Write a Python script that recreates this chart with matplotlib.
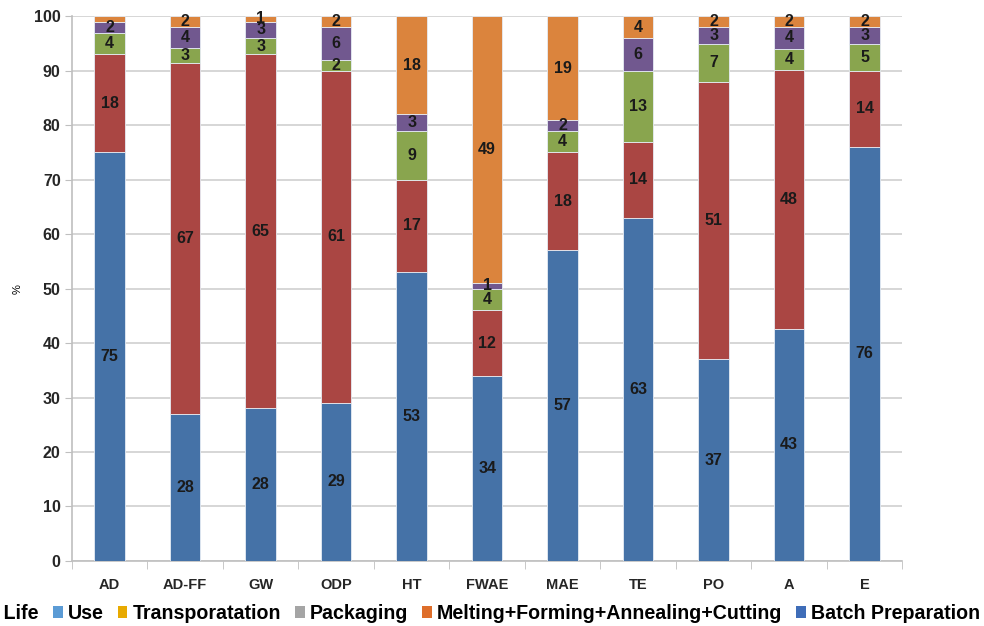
import numpy as np
import matplotlib
matplotlib.use("Agg")
from matplotlib import pyplot as plt
from matplotlib.patches import Patch

plt.rcParams['font.family'] = ['Liberation Sans', 'DejaVu Sans']

# categories and stacked shares (bottom to top)
cats = ['AD', 'AD-FF', 'GW', 'ODP', 'HT', 'FWAE', 'MAE', 'TE', 'PO', 'A', 'E']
batch = [75, 28, 28, 29, 53, 34, 57, 63, 37, 43, 76]
melting = [18, 67, 65, 61, 17, 12, 18, 14, 51, 48, 14]
green_part = [4, 3, 3, 2, 9, 4, 4, 13, 7, 4, 5]
purple_part = [2, 4, 3, 6, 3, 1, 2, 6, 3, 4, 3]
orange_part = [1, 2, 1, 2, 18, 49, 19, 4, 2, 2, 2]
series = [batch, melting, green_part, purple_part, orange_part]
bar_colors = ['#4572A7', '#AA4643', '#89A54E', '#71588F', '#DB843D']

# legend entries as printed under the chart
legend_names = ['End of Life', 'Use', 'Transporatation', 'Packaging',
                'Melting+Forming+Annealing+Cutting', 'Batch Preparation']
legend_colors = ['#70AD47', '#5B9BD5', '#E8AA00', '#A5A5A5', '#DE6E2A', '#3F6DB8']

data = np.array(series, dtype=float)
pct = data / data.sum(axis=0) * 100   # 100% stacked columns

fig = plt.figure(figsize=(9.84, 6.26), dpi=100)
ax = fig.add_axes([0.073, 0.104, 0.844, 0.870])

x = np.arange(len(cats))
bottom = np.zeros(len(cats))
for k in range(len(series)):
    ax.bar(x, pct[k], 0.4, bottom=bottom, color=bar_colors[k],
           edgecolor='#E6ECF4', linewidth=0.6, zorder=3)
    for i in range(len(cats)):
        if k == 4 and cats[i] == 'AD':
            continue
        ax.text(x[i], bottom[i] + pct[k][i] / 2, str(series[k][i]),
                ha='center', va='center', fontsize=11.5, fontweight='bold',
                color='#1A1A1A', zorder=4)
    bottom += pct[k]

ax.set_xlim(-0.5, len(cats) - 0.5)
ax.set_ylim(0, 100)
ax.set_yticks(np.arange(0, 101, 10))
ax.set_xticks(x)
ax.set_xticklabels(cats)
ax.set_xticks(np.arange(-0.5, len(cats), 1), minor=True)
ax.tick_params(axis='x', which='major', length=0, pad=12, labelsize=10.5)
ax.tick_params(axis='x', which='minor', length=6, color='#BFBFBF', direction='out')
ax.tick_params(axis='y', length=5, color='#BFBFBF', labelsize=11.5, pad=3)
for lab in ax.get_xticklabels() + ax.get_yticklabels():
    lab.set_fontweight('bold')
    lab.set_color('#262626')

ax.grid(axis='y', color='#D0D0D0', linewidth=1.2, zorder=0)
for s in ['top', 'right']:
    ax.spines[s].set_visible(False)
ax.spines['left'].set_color('#BFBFBF')
ax.spines['bottom'].set_color('#BFBFBF')
ax.spines['left'].set_linewidth(1.2)
ax.spines['bottom'].set_linewidth(1.2)
ax.set_ylabel('%', fontsize=8, labelpad=8)

handles = [Patch(facecolor=c) for c in legend_colors]
fig.legend(handles, legend_names, loc='center right', ncol=6,
           bbox_to_anchor=(0.998, 0.02), frameon=False,
           handlelength=0.5, handleheight=0.5, handletextpad=0.25,
           columnspacing=0.72, borderpad=0.1, borderaxespad=0.0,
           prop={'weight': 'bold', 'size': 14.1})

fig.savefig('out.png', dpi=100)
